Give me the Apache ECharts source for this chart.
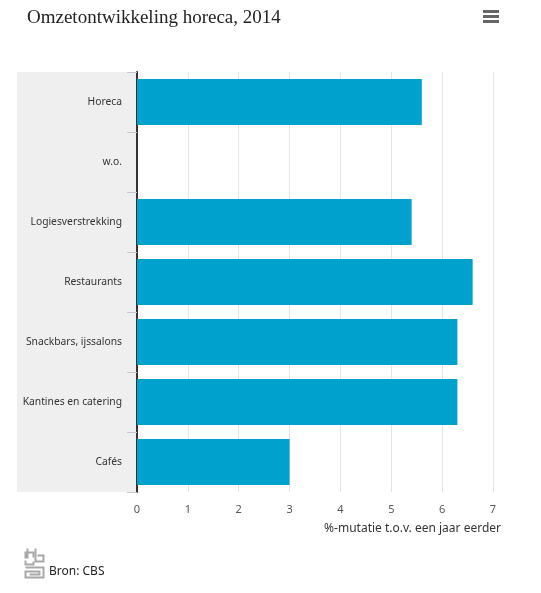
<!DOCTYPE html>
<html>
<head>
<meta charset="utf-8">
<script src="https://cdn.jsdelivr.net/npm/echarts@6/dist/echarts.min.js"></script>
<style>html,body{margin:0;padding:0;background:#fff;}#c{width:541px;height:593px;}</style>
</head>
<body>
<div id="c"></div>
<script>
var categories = ['Horeca', 'w.o.', 'Logiesverstrekking', 'Restaurants', 'Snackbars, ijssalons', 'Kantines en catering', 'Cafés'];
var values = [5.6, null, 5.4, 6.6, 6.3, 6.3, 3.0];
var titleText = 'Omzetontwikkeling horeca, 2014';
var axisName = '%-mutatie t.o.v. een jaar eerder';
var sourceText = 'Bron: CBS';

var chart = echarts.init(document.getElementById('c'), null, {renderer: 'canvas'});
var logoStroke = {stroke: '#a8a8a8', lineWidth: 2, fill: 'none'};
chart.setOption({
  animation: false,
  title: {
    text: titleText, left: 22, top: 4,
    textStyle: {fontFamily: 'Liberation Serif', fontSize: 19, fontWeight: 'normal', color: '#222'}
  },
  grid: {left: 137, right: 48, top: 72, bottom: 101, containLabel: false},
  xAxis: {
    type: 'value', min: 0, max: 7, interval: 1,
    axisLine: {show: false}, axisTick: {show: false},
    axisLabel: {color: '#555', fontSize: 11, fontFamily: 'Noto Sans', margin: 12},
    splitLine: {show: true, lineStyle: {color: '#e4e4e4', width: 1}},
    name: axisName, nameLocation: 'end',
    nameTextStyle: {color: '#333', fontSize: 12, fontFamily: 'Noto Sans', align: 'right', verticalAlign: 'top', padding: [31, 0, 0, 0]},
    nameGap: 8
  },
  yAxis: {
    type: 'category', data: categories, inverse: true,
    axisLine: {show: true, lineStyle: {color: '#333', width: 2}},
    axisTick: {show: true, length: 10, lineStyle: {color: '#c8c8c8'}},
    axisLabel: {color: '#333', fontSize: 10.3, fontFamily: 'Noto Sans', margin: 15}
  },
  series: [{
    type: 'bar', data: values, barWidth: 46,
    itemStyle: {color: '#00a1cd'}, z: 3
  }],
  graphic: [
    {type: 'rect', shape: {x: 17, y: 72, width: 119, height: 420}, style: {fill: '#efefef'}, z: -10, silent: true},
    {type: 'rect', shape: {x: 483, y: 10, width: 16, height: 3}, style: {fill: '#666'}},
    {type: 'rect', shape: {x: 483, y: 15, width: 16, height: 3}, style: {fill: '#666'}},
    {type: 'rect', shape: {x: 483, y: 20, width: 16, height: 3}, style: {fill: '#666'}},
    {type: 'group', left: 23, top: 546, children: [
      {type: 'polyline', shape: {points: [[2, 0], [2, 9], [0, 9], [0, 4], [8, 4], [8, 9]]}, style: logoStroke},
      {type: 'polyline', shape: {points: [[10, 0], [10, 13], [18, 13], [18, 7], [12, 7]]}, style: logoStroke},
      {type: 'polyline', shape: {points: [[0, 12], [0, 16], [8, 16], [8, 13]]}, style: logoStroke},
      {type: 'polyline', shape: {points: [[0, 19], [18, 19], [18, 29], [0, 29], [0, 23], [14, 23], [14, 26], [4, 26]]}, style: logoStroke}
    ]},
    {type: 'text', left: 49, top: 566, style: {text: sourceText, font: '12px "Noto Sans"', fill: '#222'}}
  ]
});
</script>
</body>
</html>
